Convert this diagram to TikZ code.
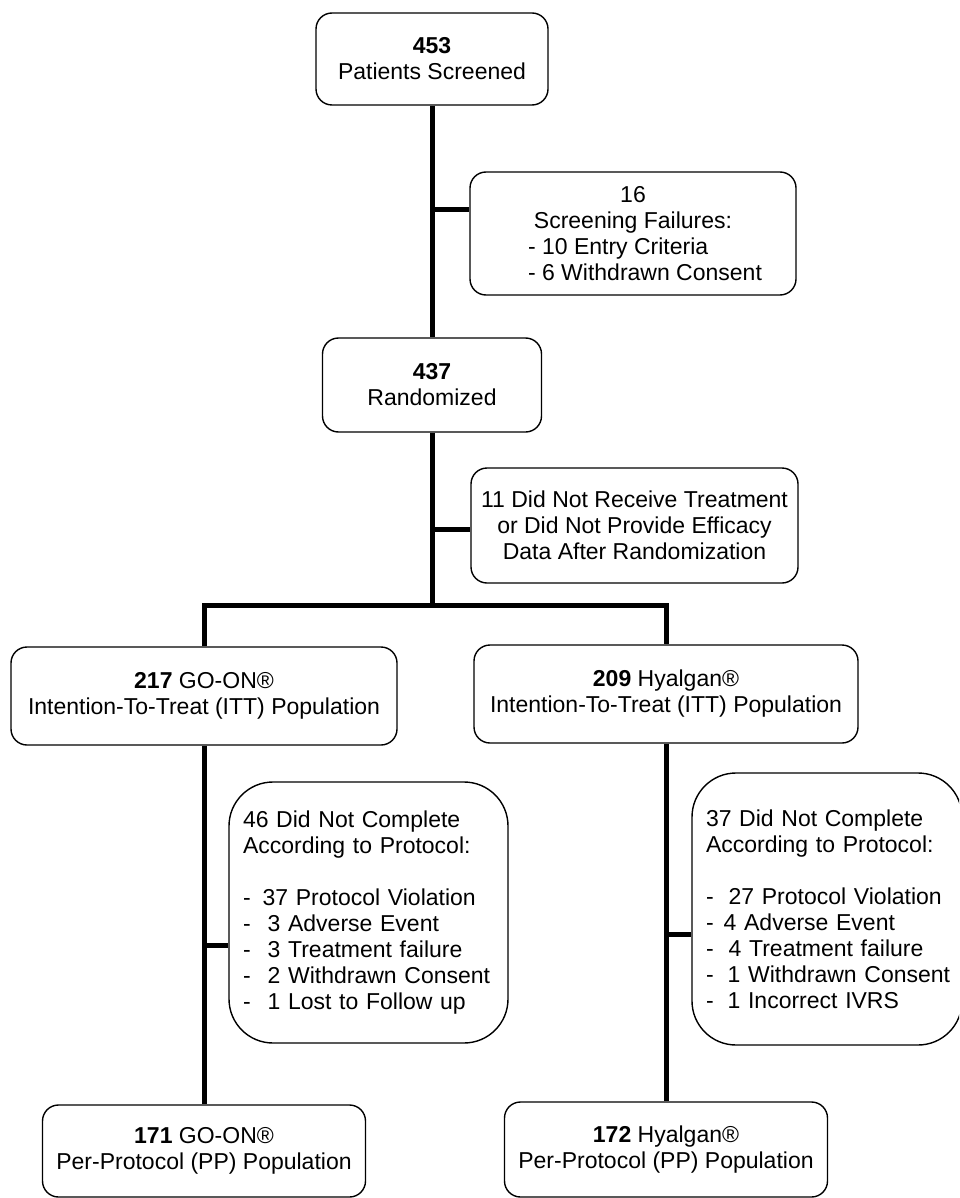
\documentclass[tikz,border=0pt]{standalone}
\usepackage{fontspec}
\setmainfont{Liberation Sans}
\begin{document}
\begin{tikzpicture}[x=0.5pt, y=-0.5pt,
		box/.style={draw, line width=0.7pt, rounded corners=8pt, align=center, inner sep=0pt, font=\fontsize{11.5}{13}\selectfont},
		bigbox/.style={box, rounded corners=22pt, align=left, inner xsep=7pt},
		link/.style={line width=2.5pt}]
		\useasboundingbox (0,0) rectangle (959,1198);
		\clip (0,0) rectangle (959,1198);
		% Screening and randomization
		\node[box, minimum width=116pt, minimum height=46pt] (scr) at (432,59) {\textbf{453}\\Patients Screened};
		\node[box, minimum width=163pt, minimum height=61.5pt] (fail) at (633,233.5) {16\\Screening Failures:\\\makebox[105pt][l]{- 10 Entry Criteria}\\\makebox[105pt][l]{- 6 Withdrawn Consent}};
		\node[box, minimum width=109.5pt, minimum height=47pt] (rand) at (432,385) {\textbf{437}\\Randomized};
		\node[box, minimum width=163.5pt, minimum height=57.5pt] (notrec) at (634.5,525.5) {11 Did Not Receive Treatment\\or Did Not Provide Efficacy\\Data After Randomization};
		% ITT populations
		\node[box, minimum width=193pt, minimum height=49pt] (ittl) at (204,696) {\textbf{217} GO-ON®\\Intention-To-Treat (ITT) Population};
		\node[box, minimum width=192pt, minimum height=49pt] (ittr) at (666,694) {\textbf{209} Hyalgan®\\Intention-To-Treat (ITT) Population};
		% Dropouts
		\node[bigbox, text width=125.5pt, minimum height=130.5pt] (dropl) at (368.5,912.5) {46 Did Not Complete\\According to Protocol:\\[13pt]
			-\hspace{6pt}37 Protocol Violation\\
			-\hspace{8.5pt}3 Adverse Event\\
			-\hspace{8.5pt}3 Treatment failure\\
			\mbox{-\hspace{8.5pt}2 Withdrawn Consent}\\
			-\hspace{8.5pt}1 Lost to Follow up};
		\node[bigbox, text width=121pt, minimum height=136pt] (dropr) at (827,909) {37 Did Not Complete\\According to Protocol:\\[13pt]
			-\hspace{7.5pt}27 Protocol Violation\\
			-\hspace{5pt}4 Adverse Event\\
			-\hspace{7.5pt}4 Treatment failure\\
			\mbox{-\hspace{7pt}1 Withdrawn Consent}\\
			-\hspace{7pt}1 Incorrect IVRS};
		% PP populations
		\node[box, minimum width=161.5pt, minimum height=46pt] (ppl) at (204,1151) {\textbf{171} GO-ON®\\Per-Protocol (PP) Population};
		\node[box, minimum width=161.5pt, minimum height=47.5pt] (ppr) at (666,1149.5) {\textbf{172} Hyalgan®\\Per-Protocol (PP) Population};
		% Connectors
		\coordinate (j1) at (432,210);
		\coordinate (j2) at (432,529);
		\coordinate (bus) at (432,605);
		\coordinate (j3) at (204,945);
		\coordinate (j4) at (666,934);
		\draw[link] (scr) -- (rand);
		\draw[link] (rand) -- (bus);
		\draw[link] (ittl.north) |- (bus) -| (ittr.north);
		\draw[link] (ittl) -- (ppl);
		\draw[link] (ittr) -- (ppr);
		\foreach \j/\b in {j1/fail, j2/notrec, j3/dropl, j4/dropr} {
			\draw[link] (\j) -- (\j -| \b.west);
		}
	\end{tikzpicture}
\end{document}
